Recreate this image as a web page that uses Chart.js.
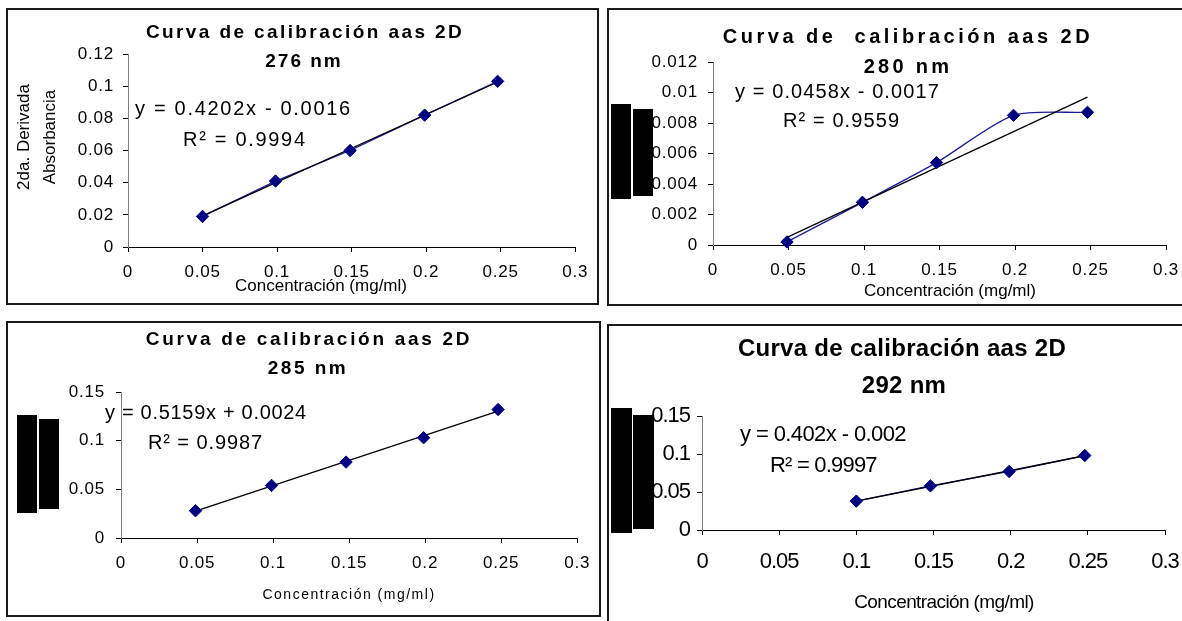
<!DOCTYPE html>
<html><head><meta charset="utf-8">
<script src="https://cdn.jsdelivr.net/npm/chart.js@4.4.1/dist/chart.umd.min.js"></script>
<style>
html,body{margin:0;padding:0;background:#fff;width:1182px;height:621px;overflow:hidden;}
.panel{position:absolute;box-sizing:border-box;border:2px solid #1a1a1a;background:#fff;}
.panel canvas{position:absolute;left:0;top:0;}
</style></head><body>
<div class="panel" style="left:6px;top:8px;width:593px;height:297px"><canvas id="c1"></canvas></div>
<div class="panel" style="left:607px;top:8px;width:600px;height:298px"><canvas id="c2"></canvas></div>
<div class="panel" style="left:6px;top:321px;width:595px;height:296px"><canvas id="c3"></canvas></div>
<div class="panel" style="left:607px;top:324px;width:600px;height:320px"><canvas id="c4"></canvas></div>
<script>
// ---- data ----
const xTickLabels = ['0','0.05','0.1','0.15','0.2','0.25','0.3'];

const conc276 = [0.05, 0.099, 0.149, 0.199, 0.248];
const abs276  = [0.019, 0.041, 0.060, 0.082, 0.103];
const trend276X = [0.05, 0.248];
const trend276Y = [0.0194, 0.1026];
const yTicks276 = ['0','0.02','0.04','0.06','0.08','0.1','0.12'];

const conc280 = [0.049, 0.099, 0.148, 0.199, 0.248];
const abs280  = [0.0002, 0.0028, 0.0054, 0.0085, 0.0087];
const trend280X = [0.049, 0.248];
const trend280Y = [0.0005, 0.0097];
const yTicks280 = ['0','0.002','0.004','0.006','0.008','0.01','0.012'];

const conc285 = [0.049, 0.099, 0.148, 0.199, 0.248];
const abs285  = [0.028, 0.054, 0.078, 0.103, 0.132];
const trend285X = [0.049, 0.248];
const trend285Y = [0.0277, 0.1303];
const yTicks285 = ['0','0.05','0.1','0.15'];

const conc292 = [0.1, 0.148, 0.199, 0.248];
const abs292  = [0.038, 0.058, 0.077, 0.098];
const trend292X = [0.1, 0.248];
const trend292Y = [0.038, 0.0977];
const yTicks292 = ['0','0.05','0.1','0.15'];

const FONT = 'Liberation Sans';
const NAVY = '#000080';
const LINEBLUE = '#1c1c9c';

function pts(xs, ys){ return xs.map((x,i)=>({x:x, y:ys[i]})); }

function buildChart(cfg){
  const canvas = document.getElementById(cfg.id);
  canvas.width = cfg.box.w; canvas.height = cfg.box.h;
  const ox = cfg.box.x, oy = cfg.box.y, A = cfg.area;
  const overlay = {
    id: 'overlay',
    beforeDraw(chart){ chart.ctx.letterSpacing = cfg.tickSp + 'px'; },
    afterDraw(chart){
      const ctx = chart.ctx;
      ctx.save();
      ctx.fillStyle = '#000';
      cfg.boxes.forEach(b => ctx.fillRect(b[0]-ox, b[1]-oy, b[2]-b[0], b[3]-b[1]));
      cfg.texts.forEach(t => {
        ctx.save();
        ctx.font = t.font + ' "' + FONT + '"';
        ctx.letterSpacing = (t.sp||0) + 'px';
        ctx.textAlign = t.align || 'center';
        ctx.textBaseline = 'middle';
        ctx.fillStyle = '#000';
        ctx.translate(t.x-ox, t.y-oy);
        if (t.rot) ctx.rotate(t.rot);
        ctx.fillText(t.text, 0, 0);
        ctx.restore();
      });
      ctx.restore();
    }
  };
  const datasets = [
    { data: pts(cfg.xs, cfg.ys), showLine:false, pointStyle:'rectRot', pointRadius:6.2,
      pointBackgroundColor:NAVY, pointBorderColor:NAVY, pointBorderWidth:1, order:0, clip:false },
    { data: pts(cfg.tx, cfg.ty), showLine:true, borderColor:'#000', borderWidth:1.3, pointRadius:0, order:1, clip:false },
  ];
  if (cfg.seriesLine) datasets.push({ data: pts(cfg.xs, cfg.ys), showLine:true, borderColor:LINEBLUE, borderWidth:1.3,
      tension: cfg.tension||0, pointRadius:0, order:2, clip:false });
  return new Chart(canvas, {
    type:'scatter',
    data:{ datasets },
    options:{
      responsive:false, animation:false, devicePixelRatio:1, events:[],
      layout:{ padding:{ left:0, top:A.t-oy, right:ox+cfg.box.w-A.r, bottom:0 } },
      plugins:{ legend:{display:false}, tooltip:{enabled:false}, title:{display:false} },
      scales:{
        x:{ type:'linear', position:'bottom', min:0, max:0.3,
            afterFit: s => { s.height = oy + cfg.box.h - A.b; },
            ticks:{ stepSize:0.05, autoSkip:false, maxRotation:0, padding:cfg.xPad, color:'#000',
                    font:{family:FONT, size:cfg.tickSize}, callback:(v,i)=>xTickLabels[i] },
            grid:{ display:true, drawOnChartArea:false, drawTicks:true, tickLength:5, color:'#000', lineWidth:1 },
            border:{ display:true, color:'#000', width:1 } },
        y:{ type:'linear', position:'left', min:0, max:cfg.ymax,
            afterFit: s => { s.width = A.l - ox; },
            ticks:{ stepSize:cfg.ystep, autoSkip:false, padding:cfg.yPad, color:'#000',
                    font:{family:FONT, size:cfg.tickSize}, callback:(v,i)=>cfg.yLabels[i] },
            grid:{ display:true, drawOnChartArea:false, drawTicks:true, tickLength:5, color:'#000', lineWidth:1 },
            border:{ display:true, color:'#808080', width:1 } }
      }
    },
    plugins:[overlay]
  });
}

buildChart({ id:'c1', box:{x:8,y:10,w:589,h:293}, area:{l:128,t:54,r:577,b:247},
  xs:conc276, ys:abs276, tx:trend276X, ty:trend276Y, seriesLine:true,
  ymax:0.12, ystep:0.02, yLabels:yTicks276, tickSize:17, tickSp:0.8, xPad:10, yPad:9,
  boxes:[],
  texts:[
    {text:'Curva de calibración aas 2D', x:305, y:33, font:'bold 19px', sp:2.4},
    {text:'276 nm', x:304, y:62, font:'bold 19px', sp:2},
    {text:'y = 0.4202x - 0.0016', x:135, y:109, font:'20px', sp:1.7, align:'left'},
    {text:'R² = 0.9994', x:183, y:140, font:'20px', sp:1.7, align:'left'},
    {text:'Concentración (mg/ml)', x:321, y:286, font:'17px', sp:0},
    {text:'2da. Derivada', x:24, y:137, font:'17px', sp:0, rot:-Math.PI/2},
    {text:'Absorbancia', x:50, y:137, font:'17px', sp:0, rot:-Math.PI/2}
  ]});

buildChart({ id:'c2', box:{x:609,y:10,w:596,h:294}, area:{l:713,t:62,r:1166,b:245},
  xs:conc280, ys:abs280, tx:trend280X, ty:trend280Y, seriesLine:true, tension:0.25,
  ymax:0.012, ystep:0.002, yLabels:yTicks280, tickSize:17, tickSp:0.8, xPad:10, yPad:10,
  boxes:[[611,104,631,199],[633,109,653,196]],
  texts:[
    {text:'Curva de  calibración aas 2D', x:908, y:37, font:'bold 20px', sp:3.5},
    {text:'280 nm', x:908, y:67, font:'bold 20px', sp:3.3},
    {text:'y = 0.0458x - 0.0017', x:735, y:92, font:'20px', sp:1.1, align:'left'},
    {text:'R² = 0.9559', x:783, y:121, font:'20px', sp:1.1, align:'left'},
    {text:'Concentración (mg/ml)', x:950, y:291, font:'17px', sp:0}
  ]});

buildChart({ id:'c3', box:{x:8,y:323,w:591,h:292}, area:{l:121,t:392,r:578,b:538},
  xs:conc285, ys:abs285, tx:trend285X, ty:trend285Y, seriesLine:false,
  ymax:0.15, ystep:0.05, yLabels:yTicks285, tickSize:17, tickSp:0.8, xPad:10, yPad:11,
  boxes:[[17,415,37,513],[39,419,59,509]],
  texts:[
    {text:'Curva de calibración aas 2D', x:309, y:340, font:'bold 19px', sp:2.7},
    {text:'285 nm', x:308, y:369, font:'bold 19px', sp:2.5},
    {text:'y = 0.5159x + 0.0024', x:105, y:413, font:'20px', sp:0.7, align:'left'},
    {text:'R² = 0.9987', x:148, y:443, font:'20px', sp:0.9, align:'left'},
    {text:'Concentración (mg/ml)', x:349, y:595, font:'14px', sp:1.5}
  ]});

buildChart({ id:'c4', box:{x:609,y:326,w:596,h:316}, area:{l:702,t:416,r:1165,b:530},
  xs:conc292, ys:abs292, tx:trend292X, ty:trend292Y, seriesLine:true,
  ymax:0.15, ystep:0.05, yLabels:yTicks292, tickSize:22, tickSp:-1, xPad:14, yPad:7,
  boxes:[[611,408,632,533],[633,415,654,529]],
  texts:[
    {text:'Curva de calibración aas 2D', x:902, y:349, font:'bold 24px', sp:0.3},
    {text:'292 nm', x:904, y:386, font:'bold 24px', sp:0.3},
    {text:'y = 0.402x - 0.002', x:740, y:435, font:'22px', sp:-0.6, align:'left'},
    {text:'R² = 0.9997', x:770, y:466, font:'22px', sp:-0.8, align:'left'},
    {text:'Concentración (mg/ml)', x:944, y:603, font:'19px', sp:-0.6}
  ]});
</script>
</body></html>
